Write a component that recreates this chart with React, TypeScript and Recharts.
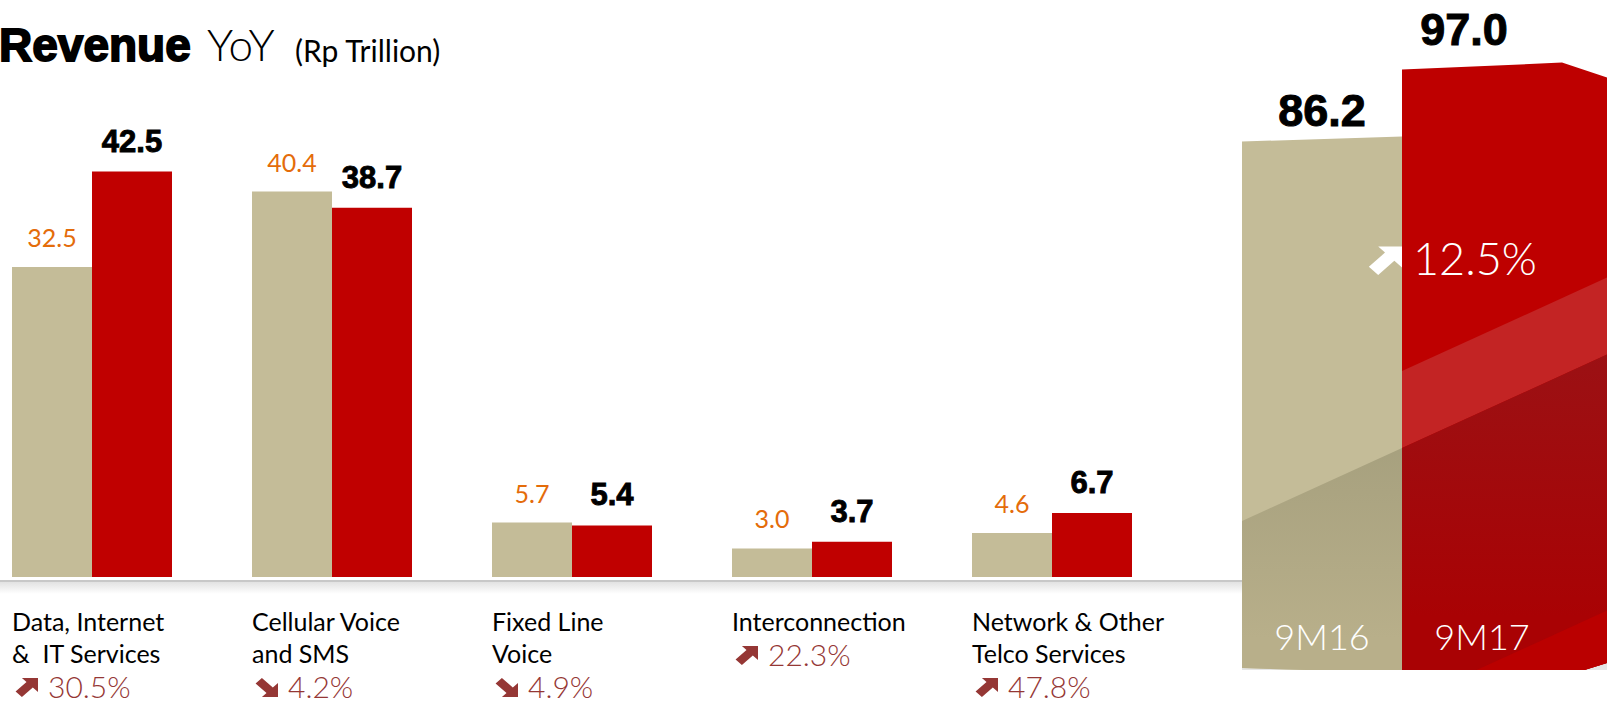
import { BarChart, Bar, XAxis, YAxis, LabelList } from 'recharts';

// Revenue per segment, Rp trillion
const categoryLines = [
  ['Data, Internet', '&  IT Services'],
  ['Cellular Voice', 'and SMS'],
  ['Fixed Line', 'Voice'],
  ['Interconnection'],
  ['Network & Other', 'Telco Services'],
];
const revenue9M16 = [32.5, 40.4, 5.7, 3.0, 4.6];
const revenue9M17 = [42.5, 38.7, 5.4, 3.7, 6.7];
const growthPct = [30.5, -4.2, -4.9, 22.3, 47.8];

// Totals
const periods = ['9M16', '9M17'];
const totals = [86.2, 97.0];
const totalGrowth = 12.5;

const TAN = '#C4BC98';
const RED = '#C00000';
const GROWTH_RED = '#953735';

const categoryNames = categoryLines.map((l) => l.join(' '));

const segmentData = categoryNames.map((name, i) => ({
  name,
  prev: revenue9M16[i],
  curr: revenue9M17[i],
}));

const totalData = periods.map((period, i) => ({ period, value: totals[i] }));

const UP_ARROW = '6,0 20,0 20,14 15.5,9.5 6,19 0.5,13.5 10,4';
const DOWN_ARROW = '6,19 20,19 20,5 15.5,9.5 6,0 0.5,5.5 10,15';

const CategoryTick = (props: any) => {
  const { x, y, payload } = props;
  const i = categoryNames.indexOf(payload.value);
  if (i < 0) return null;
  const lines = categoryLines[i];
  const left = x - 80;
  const g = growthPct[i];
  const pctY = y + 54 + (lines.length - 1) * 32 + 35;
  return (
    <g>
      {lines.map((line, j) => (
        <text
          key={j}
          x={left}
          y={y + 54 + j * 32}
          fill="#000"
          fontFamily="Lato, sans-serif"
          fontSize={25}
          style={{ whiteSpace: 'pre' }}
        >
          {line}
        </text>
      ))}
      <polygon
        points={g >= 0 ? UP_ARROW : DOWN_ARROW}
        fill={GROWTH_RED}
        transform={`translate(${left + 3}, ${pctY - 20}) scale(1.15, 1)`}
      />
      <text
        x={left + 36}
        y={pctY}
        fill={GROWTH_RED}
        fontFamily="Lato, sans-serif"
        fontWeight={300}
        fontSize={30}
      >
        {Math.abs(g).toFixed(1)}%
      </text>
    </g>
  );
};

const PrevLabel = (props: any) => {
  const { x, y, width, value } = props;
  return (
    <text x={x + width / 2} y={y - 20} textAnchor="middle" fill="#E46C0A" fontFamily="Lato, sans-serif" fontSize={25}>
      {Number(value).toFixed(1)}
    </text>
  );
};

const CurrLabel = (props: any) => {
  const { x, y, width, value } = props;
  return (
    <text
      x={x + width / 2}
      y={y - 20}
      textAnchor="middle"
      fill="#000"
      stroke="#000"
      strokeWidth={0.9}
      fontFamily="'Liberation Sans', Arial, sans-serif"
      fontWeight={700}
      fontSize={31}
    >
      {Number(value).toFixed(1)}
    </text>
  );
};

const BigBarShape = (props: any) => {
  const { x, y, width: w, height: h, index } = props;
  const B = y + h;
  const isCurr = index === 1;
  const X0 = isCurr ? x - w : x;
  const line = (k: number, px: number) => B + k - 0.456 * (px - X0);
  const xl = x - 2;
  const xr = x + w + 50;
  const pts = isCurr
    ? [[x, y + 1], [x + w, y - 6], [x + w + 45, y + 9], [x + w + 45, B - 7], [x + w, B + 7], [x, B + 1]]
    : [[x, y + 6], [x + w, y + 1], [x + w, B + 3], [x, B - 2]];
  const ptsStr = pts.map((p) => p.join(',')).join(' ');
  const below = (k: number) => `${xl},${line(k, xl)} ${xr},${line(k, xr)} ${xr},${B + 60} ${xl},${B + 60}`;
  const between = (k1: number, k2: number) =>
    `${xl},${line(k1, xl)} ${xr},${line(k1, xr)} ${xr},${line(k2, xr)} ${xl},${line(k2, xl)}`;
  const clipId = `big-clip-${index}`;
  const darkId = `big-dark-${index}`;
  const reflId = `big-refl-${index}`;
  const bottomEdge = isCurr
    ? [[x, B + 1], [x + w, B + 7], [x + w + 45, B - 7]]
    : [[x, B - 2], [x + w, B + 3]];
  const refl = [
    ...bottomEdge,
    ...bottomEdge.slice().reverse().map((p) => [p[0], p[1] + 40]),
  ]
    .map((p) => p.join(','))
    .join(' ');
  return (
    <g>
      <defs>
        <clipPath id={clipId}>
          <polygon points={ptsStr} />
        </clipPath>
        <linearGradient id={darkId} x1="0" y1="0" x2="0" y2="1">
          <stop offset="0%" stopColor={isCurr ? '#9B1114' : '#A59F7D'} />
          <stop offset="70%" stopColor={isCurr ? '#A90204' : '#B8AF8A'} />
        </linearGradient>
        <linearGradient id={reflId} x1="0" y1="0" x2="0" y2="1">
          <stop offset="0%" stopColor="#E4E4E4" />
          <stop offset="100%" stopColor="#FFFFFF" />
        </linearGradient>
      </defs>
      <polygon points={refl} fill={`url(#${reflId})`} />
      <polygon points={ptsStr} fill={isCurr ? '#BE0000' : TAN} />
      <g clipPath={`url(#${clipId})`}>
        {isCurr && <polygon points={between(-226, -149)} fill="#C32424" />}
        <polygon points={below(-149)} fill={`url(#${darkId})`} />
        {isCurr && <polygon points={below(107)} fill="#BA0000" />}
      </g>
    </g>
  );
};

const BigLabel = (props: any) => {
  const { x, y, width, value, index } = props;
  const isCurr = index === 1;
  const h = props.height;
  const B = y + h;
  return (
    <g>
      <text
        x={x + width / 2 + (isCurr ? -18 : 0)}
        y={y + (isCurr ? -24 : -10)}
        textAnchor="middle"
        fill="#000"
        stroke="#000"
        strokeWidth={1}
        fontFamily="'Liberation Sans', Arial, sans-serif"
        fontWeight={700}
        fontSize={45}
      >
        {Number(value).toFixed(1)}
      </text>
      <text
        x={x + width / 2}
        y={B - 20}
        textAnchor="middle"
        fill="#fff"
        fontFamily="Lato, sans-serif"
        fontWeight={300}
        fontSize={36}
      >
        {periods[index]}
      </text>
      {isCurr && (
        <g>
          <polygon points={UP_ARROW} fill="#fff" transform={`translate(${x - 34}, ${y + 178}) scale(1.7, 1.5)`} />
          <text x={x + 11} y={y + 206} fill="#fff" fontFamily="Lato, sans-serif" fontWeight={300} fontSize={45}>
            {totalGrowth.toFixed(1)}%
          </text>
        </g>
      )}
    </g>
  );
};

export default function App() {
  return (
    <div style={{ position: 'absolute', left: 0, top: 0, width: 1608, height: 704, overflow: 'hidden', background: '#fff' }}>
      <svg width={620} height={90} style={{ position: 'absolute', left: 0, top: 0 }}>
        <text x={-1} y={61} fill="#000" stroke="#000" strokeWidth={1.8} fontFamily="'Liberation Sans', Arial, sans-serif" fontWeight={700} fontSize={46}>
          Revenue
        </text>
        <text x={207} y={61} fill="#000" fontFamily="Lato, sans-serif" fontWeight={300} fontSize={44}>
          YoY
        </text>
        <text x={295} y={62} fill="#000" fontFamily="Lato, sans-serif" fontSize={30}>
          (Rp Trillion)
        </text>
      </svg>

      {/* shadow line under the segment bars */}
      <div style={{ position: 'absolute', left: 0, top: 580, width: 1246, height: 2, background: '#C8C8C8' }} />
      <div
        style={{
          position: 'absolute',
          left: 0,
          top: 582,
          width: 1246,
          height: 12,
          background: 'linear-gradient(#E2E2E2, rgba(255,255,255,0))',
        }}
      />

      <div style={{ position: 'absolute', left: -28, top: 0 }}>
        <BarChart
          width={1200}
          height={704}
          data={segmentData}
          margin={{ top: 100, right: 0, bottom: 0, left: 0 }}
          barCategoryGap={40}
          barGap={0}
        >
          <XAxis
            dataKey="name"
            axisLine={false}
            tickLine={false}
            tickSize={0}
            tickMargin={0}
            height={127}
            interval={0}
            tick={<CategoryTick />}
          />
          <YAxis hide width={0} domain={[0, 50]} />
          <Bar dataKey="prev" fill={TAN} isAnimationActive={false}>
            <LabelList dataKey="prev" content={<PrevLabel />} />
          </Bar>
          <Bar dataKey="curr" fill={RED} isAnimationActive={false}>
            <LabelList dataKey="curr" content={<CurrLabel />} />
          </Bar>
        </BarChart>
      </div>

      <div style={{ position: 'absolute', left: 1242, top: 0 }}>
        <BarChart
          width={366}
          height={670}
          data={totalData}
          margin={{ top: 50, right: 46, bottom: 0, left: 0 }}
          barCategoryGap={0}
          style={{ overflow: 'visible' }}
        >
          <XAxis dataKey="period" hide height={0} />
          <YAxis hide width={0} domain={[0, 100]} />
          <Bar dataKey="value" shape={<BigBarShape />} isAnimationActive={false}>
            <LabelList dataKey="value" content={<BigLabel />} />
          </Bar>
        </BarChart>
      </div>
    </div>
  );
}
